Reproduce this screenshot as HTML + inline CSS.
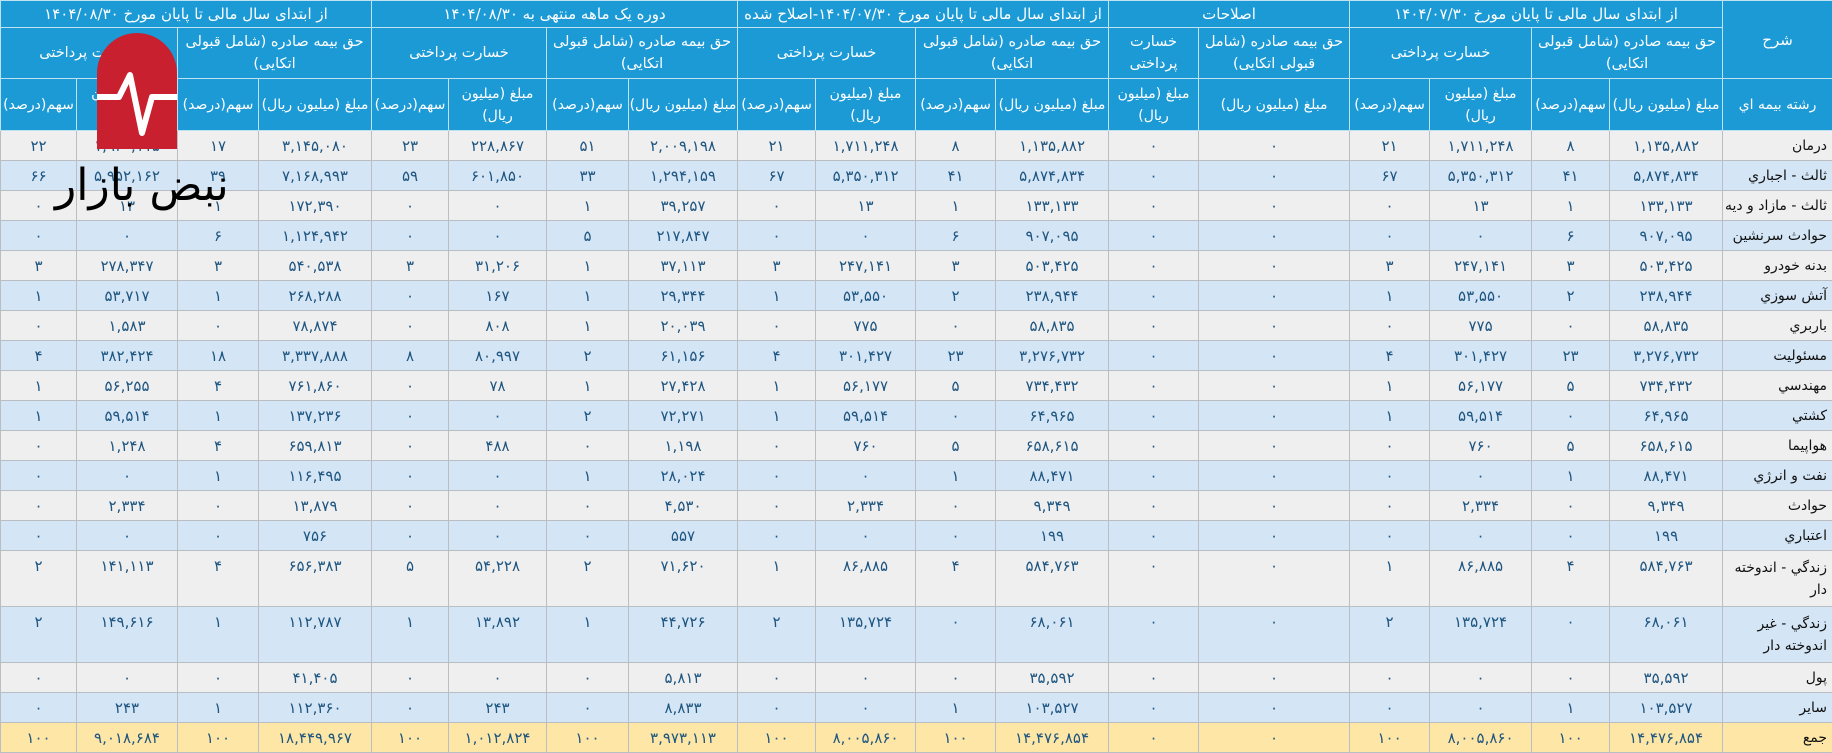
<!DOCTYPE html>
<html><head><meta charset="utf-8">
<style>
html,body{margin:0;padding:0;background:#fff;}
body{width:1832px;height:742px;overflow:hidden;position:relative;font-family:"DejaVu Sans","Liberation Sans",sans-serif;}
table{border-collapse:collapse;table-layout:fixed;width:1832px;direction:rtl;}
td,th{padding:0;text-align:center;vertical-align:middle;overflow:hidden;}
thead th{background:#1c9ad6;color:#fff;font-weight:normal;font-size:14.5px;border:1px solid #bfe2f3;line-height:22px;}
tr.h1 th{height:26px;white-space:nowrap;font-size:15px;}
tr.h2 th{height:50px;}
tr.h3 th{height:51px;}
tr.h3 th{font-size:14px;}
tbody td{font-size:15px;font-weight:normal;color:#1d5580;border:1px solid #b9bec4;height:29px;line-height:20px;white-space:nowrap;}
tbody td:first-child{text-align:right;color:#111;padding-right:5px;font-size:14px;}
tbody tr:nth-child(odd) td{background:#efefef;}
tbody tr:nth-child(even) td{background:#d4e5f5;}
tbody tr.dbl td{height:50px;vertical-align:top;padding-top:5px;}
tbody tr.dbl td:first-child{vertical-align:middle;padding-top:0;line-height:22px;white-space:normal;}
tbody tr.tot td{background:#fde6a6;}
.wm{position:absolute;left:97px;top:33px;}
.wmt{position:absolute;left:55px;top:160px;font-size:44px;color:#000;font-family:"DejaVu Sans",sans-serif;direction:rtl;line-height:52px;}
</style></head><body>
<table>
<colgroup>
<col style="width:110px"><col style="width:113px"><col style="width:78px"><col style="width:102px"><col style="width:80px"><col style="width:151px"><col style="width:90px"><col style="width:113px"><col style="width:80px"><col style="width:100px"><col style="width:78px"><col style="width:109px"><col style="width:82px"><col style="width:98px"><col style="width:77px"><col style="width:113px"><col style="width:81px"><col style="width:101px"><col style="width:76px">
</colgroup>
<thead>
<tr class="h1">
<th rowspan="2">شرح</th>
<th colspan="4">از ابتدای سال مالی تا پایان مورخ ۱۴۰۴/۰۷/۳۰</th>
<th colspan="2">اصلاحات</th>
<th colspan="4">از ابتدای سال مالی تا پایان مورخ ۱۴۰۴/۰۷/۳۰-اصلاح شده</th>
<th colspan="4">دوره یک ماهه منتهی به ۱۴۰۴/۰۸/۳۰</th>
<th colspan="4">از ابتدای سال مالی تا پایان مورخ ۱۴۰۴/۰۸/۳۰</th>
</tr>
<tr class="h2">
<th colspan="2">حق بیمه صادره (شامل قبولی اتکایی)</th>
<th colspan="2">خسارت پرداختی</th>
<th>حق بیمه صادره (شامل قبولی اتکایی)</th>
<th>خسارت پرداختی</th>
<th colspan="2">حق بیمه صادره (شامل قبولی اتکایی)</th>
<th colspan="2">خسارت پرداختی</th>
<th colspan="2">حق بیمه صادره (شامل قبولی اتکایی)</th>
<th colspan="2">خسارت پرداختی</th>
<th colspan="2">حق بیمه صادره (شامل قبولی اتکایی)</th>
<th colspan="2">خسارت پرداختی</th>
</tr>
<tr class="h3">
<th>رشته بیمه اي</th>
<th>مبلغ (میلیون ریال)</th><th>سهم(درصد)</th><th>مبلغ (میلیون ریال)</th><th>سهم(درصد)</th>
<th>مبلغ (میلیون ریال)</th><th>مبلغ (میلیون ریال)</th>
<th>مبلغ (میلیون ریال)</th><th>سهم(درصد)</th><th>مبلغ (میلیون ریال)</th><th>سهم(درصد)</th>
<th>مبلغ (میلیون ریال)</th><th>سهم(درصد)</th><th>مبلغ (میلیون ریال)</th><th>سهم(درصد)</th>
<th>مبلغ (میلیون ریال)</th><th>سهم(درصد)</th><th>مبلغ (میلیون ریال)</th><th>سهم(درصد)</th>
</tr>
</thead>
<tbody>
<tr><td>درمان</td><td>۱,۱۳۵,۸۸۲</td><td>۸</td><td>۱,۷۱۱,۲۴۸</td><td>۲۱</td><td>۰</td><td>۰</td><td>۱,۱۳۵,۸۸۲</td><td>۸</td><td>۱,۷۱۱,۲۴۸</td><td>۲۱</td><td>۲,۰۰۹,۱۹۸</td><td>۵۱</td><td>۲۲۸,۸۶۷</td><td>۲۳</td><td>۳,۱۴۵,۰۸۰</td><td>۱۷</td><td>۱,۹۴۰,۱۱۵</td><td>۲۲</td></tr>
<tr><td>ثالث - اجباري</td><td>۵,۸۷۴,۸۳۴</td><td>۴۱</td><td>۵,۳۵۰,۳۱۲</td><td>۶۷</td><td>۰</td><td>۰</td><td>۵,۸۷۴,۸۳۴</td><td>۴۱</td><td>۵,۳۵۰,۳۱۲</td><td>۶۷</td><td>۱,۲۹۴,۱۵۹</td><td>۳۳</td><td>۶۰۱,۸۵۰</td><td>۵۹</td><td>۷,۱۶۸,۹۹۳</td><td>۳۹</td><td>۵,۹۵۲,۱۶۲</td><td>۶۶</td></tr>
<tr><td>ثالث - مازاد و ديه</td><td>۱۳۳,۱۳۳</td><td>۱</td><td>۱۳</td><td>۰</td><td>۰</td><td>۰</td><td>۱۳۳,۱۳۳</td><td>۱</td><td>۱۳</td><td>۰</td><td>۳۹,۲۵۷</td><td>۱</td><td>۰</td><td>۰</td><td>۱۷۲,۳۹۰</td><td>۱</td><td>۱۳</td><td>۰</td></tr>
<tr><td>حوادث سرنشين</td><td>۹۰۷,۰۹۵</td><td>۶</td><td>۰</td><td>۰</td><td>۰</td><td>۰</td><td>۹۰۷,۰۹۵</td><td>۶</td><td>۰</td><td>۰</td><td>۲۱۷,۸۴۷</td><td>۵</td><td>۰</td><td>۰</td><td>۱,۱۲۴,۹۴۲</td><td>۶</td><td>۰</td><td>۰</td></tr>
<tr><td>بدنه خودرو</td><td>۵۰۳,۴۲۵</td><td>۳</td><td>۲۴۷,۱۴۱</td><td>۳</td><td>۰</td><td>۰</td><td>۵۰۳,۴۲۵</td><td>۳</td><td>۲۴۷,۱۴۱</td><td>۳</td><td>۳۷,۱۱۳</td><td>۱</td><td>۳۱,۲۰۶</td><td>۳</td><td>۵۴۰,۵۳۸</td><td>۳</td><td>۲۷۸,۳۴۷</td><td>۳</td></tr>
<tr><td>آتش سوزي</td><td>۲۳۸,۹۴۴</td><td>۲</td><td>۵۳,۵۵۰</td><td>۱</td><td>۰</td><td>۰</td><td>۲۳۸,۹۴۴</td><td>۲</td><td>۵۳,۵۵۰</td><td>۱</td><td>۲۹,۳۴۴</td><td>۱</td><td>۱۶۷</td><td>۰</td><td>۲۶۸,۲۸۸</td><td>۱</td><td>۵۳,۷۱۷</td><td>۱</td></tr>
<tr><td>باربري</td><td>۵۸,۸۳۵</td><td>۰</td><td>۷۷۵</td><td>۰</td><td>۰</td><td>۰</td><td>۵۸,۸۳۵</td><td>۰</td><td>۷۷۵</td><td>۰</td><td>۲۰,۰۳۹</td><td>۱</td><td>۸۰۸</td><td>۰</td><td>۷۸,۸۷۴</td><td>۰</td><td>۱,۵۸۳</td><td>۰</td></tr>
<tr><td>مسئوليت</td><td>۳,۲۷۶,۷۳۲</td><td>۲۳</td><td>۳۰۱,۴۲۷</td><td>۴</td><td>۰</td><td>۰</td><td>۳,۲۷۶,۷۳۲</td><td>۲۳</td><td>۳۰۱,۴۲۷</td><td>۴</td><td>۶۱,۱۵۶</td><td>۲</td><td>۸۰,۹۹۷</td><td>۸</td><td>۳,۳۳۷,۸۸۸</td><td>۱۸</td><td>۳۸۲,۴۲۴</td><td>۴</td></tr>
<tr><td>مهندسي</td><td>۷۳۴,۴۳۲</td><td>۵</td><td>۵۶,۱۷۷</td><td>۱</td><td>۰</td><td>۰</td><td>۷۳۴,۴۳۲</td><td>۵</td><td>۵۶,۱۷۷</td><td>۱</td><td>۲۷,۴۲۸</td><td>۱</td><td>۷۸</td><td>۰</td><td>۷۶۱,۸۶۰</td><td>۴</td><td>۵۶,۲۵۵</td><td>۱</td></tr>
<tr><td>کشتي</td><td>۶۴,۹۶۵</td><td>۰</td><td>۵۹,۵۱۴</td><td>۱</td><td>۰</td><td>۰</td><td>۶۴,۹۶۵</td><td>۰</td><td>۵۹,۵۱۴</td><td>۱</td><td>۷۲,۲۷۱</td><td>۲</td><td>۰</td><td>۰</td><td>۱۳۷,۲۳۶</td><td>۱</td><td>۵۹,۵۱۴</td><td>۱</td></tr>
<tr><td>هواپيما</td><td>۶۵۸,۶۱۵</td><td>۵</td><td>۷۶۰</td><td>۰</td><td>۰</td><td>۰</td><td>۶۵۸,۶۱۵</td><td>۵</td><td>۷۶۰</td><td>۰</td><td>۱,۱۹۸</td><td>۰</td><td>۴۸۸</td><td>۰</td><td>۶۵۹,۸۱۳</td><td>۴</td><td>۱,۲۴۸</td><td>۰</td></tr>
<tr><td>نفت و انرژي</td><td>۸۸,۴۷۱</td><td>۱</td><td>۰</td><td>۰</td><td>۰</td><td>۰</td><td>۸۸,۴۷۱</td><td>۱</td><td>۰</td><td>۰</td><td>۲۸,۰۲۴</td><td>۱</td><td>۰</td><td>۰</td><td>۱۱۶,۴۹۵</td><td>۱</td><td>۰</td><td>۰</td></tr>
<tr><td>حوادث</td><td>۹,۳۴۹</td><td>۰</td><td>۲,۳۳۴</td><td>۰</td><td>۰</td><td>۰</td><td>۹,۳۴۹</td><td>۰</td><td>۲,۳۳۴</td><td>۰</td><td>۴,۵۳۰</td><td>۰</td><td>۰</td><td>۰</td><td>۱۳,۸۷۹</td><td>۰</td><td>۲,۳۳۴</td><td>۰</td></tr>
<tr><td>اعتباري</td><td>۱۹۹</td><td>۰</td><td>۰</td><td>۰</td><td>۰</td><td>۰</td><td>۱۹۹</td><td>۰</td><td>۰</td><td>۰</td><td>۵۵۷</td><td>۰</td><td>۰</td><td>۰</td><td>۷۵۶</td><td>۰</td><td>۰</td><td>۰</td></tr>
<tr class="dbl"><td>زندگي - اندوخته دار</td><td>۵۸۴,۷۶۳</td><td>۴</td><td>۸۶,۸۸۵</td><td>۱</td><td>۰</td><td>۰</td><td>۵۸۴,۷۶۳</td><td>۴</td><td>۸۶,۸۸۵</td><td>۱</td><td>۷۱,۶۲۰</td><td>۲</td><td>۵۴,۲۲۸</td><td>۵</td><td>۶۵۶,۳۸۳</td><td>۴</td><td>۱۴۱,۱۱۳</td><td>۲</td></tr>
<tr class="dbl"><td>زندگي - غير اندوخته دار</td><td>۶۸,۰۶۱</td><td>۰</td><td>۱۳۵,۷۲۴</td><td>۲</td><td>۰</td><td>۰</td><td>۶۸,۰۶۱</td><td>۰</td><td>۱۳۵,۷۲۴</td><td>۲</td><td>۴۴,۷۲۶</td><td>۱</td><td>۱۳,۸۹۲</td><td>۱</td><td>۱۱۲,۷۸۷</td><td>۱</td><td>۱۴۹,۶۱۶</td><td>۲</td></tr>
<tr><td>پول</td><td>۳۵,۵۹۲</td><td>۰</td><td>۰</td><td>۰</td><td>۰</td><td>۰</td><td>۳۵,۵۹۲</td><td>۰</td><td>۰</td><td>۰</td><td>۵,۸۱۳</td><td>۰</td><td>۰</td><td>۰</td><td>۴۱,۴۰۵</td><td>۰</td><td>۰</td><td>۰</td></tr>
<tr><td>ساير</td><td>۱۰۳,۵۲۷</td><td>۱</td><td>۰</td><td>۰</td><td>۰</td><td>۰</td><td>۱۰۳,۵۲۷</td><td>۱</td><td>۰</td><td>۰</td><td>۸,۸۳۳</td><td>۰</td><td>۲۴۳</td><td>۰</td><td>۱۱۲,۳۶۰</td><td>۱</td><td>۲۴۳</td><td>۰</td></tr>
<tr class="tot"><td>جمع</td><td>۱۴,۴۷۶,۸۵۴</td><td>۱۰۰</td><td>۸,۰۰۵,۸۶۰</td><td>۱۰۰</td><td>۰</td><td>۰</td><td>۱۴,۴۷۶,۸۵۴</td><td>۱۰۰</td><td>۸,۰۰۵,۸۶۰</td><td>۱۰۰</td><td>۳,۹۷۳,۱۱۳</td><td>۱۰۰</td><td>۱,۰۱۲,۸۲۴</td><td>۱۰۰</td><td>۱۸,۴۴۹,۹۶۷</td><td>۱۰۰</td><td>۹,۰۱۸,۶۸۴</td><td>۱۰۰</td></tr>
</tbody>
</table>
<svg class="wm" width="80" height="116" viewBox="0 0 80 116">
<path d="M0,116 L0,40 A40,40 0 0 1 80,40 L80,116 Z" fill="#c8202f"/>
<path d="M0,64 L22,64 L33,42 L45,100 L55,64 L80,64" fill="none" stroke="#fff" stroke-width="6" stroke-linejoin="round"/>
</svg>
<div class="wmt">نبض بازار</div>
</body></html>
